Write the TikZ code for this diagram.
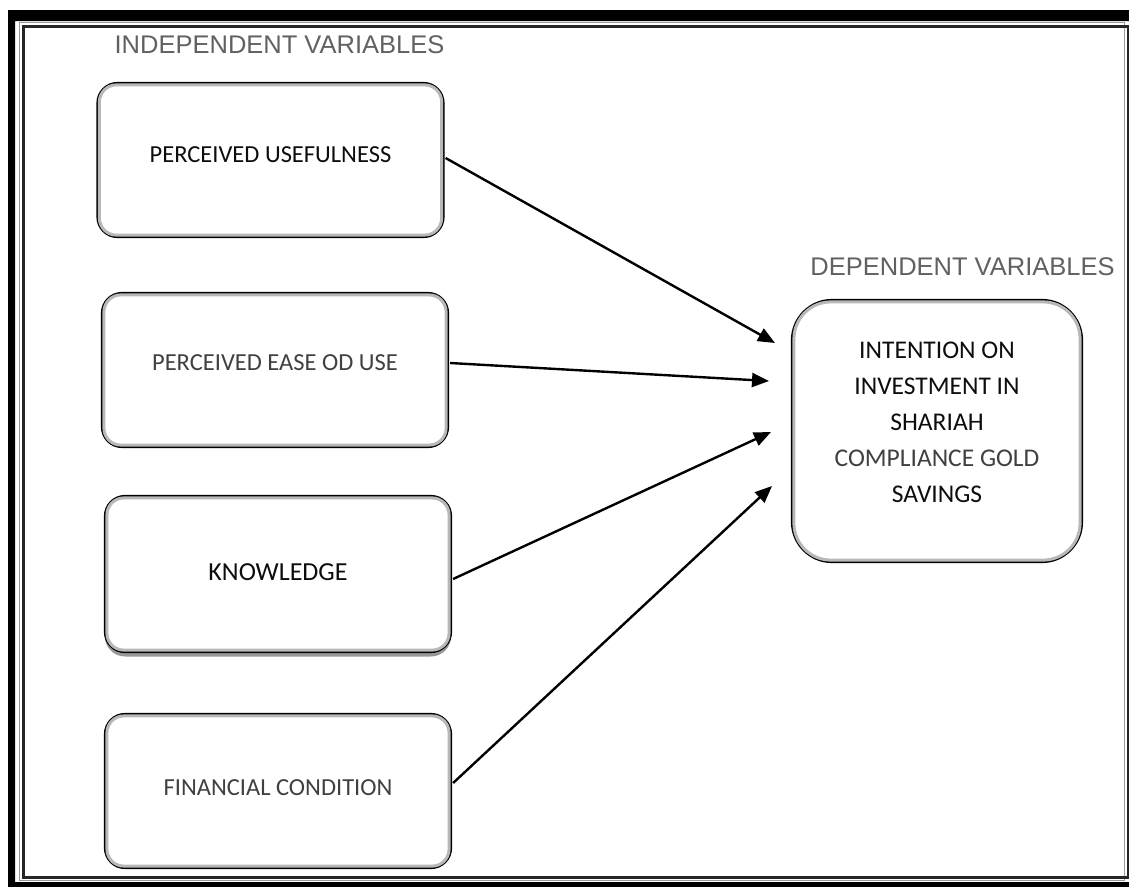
\documentclass[tikz,border=0pt]{standalone}
\usepackage{fontspec}
\setmainfont{Carlito}
\newfontfamily\headfont{Liberation Sans}
\usetikzlibrary{arrows.meta,shadows,calc}

\begin{document}
\begin{tikzpicture}[x=1pt,y=-1pt,
  heading/.style={font=\headfont\fontsize{25.5}{30}\selectfont, text=black!62, inner sep=0pt},
  varbox/.style={draw=black, line width=2.2pt, fill=white, rounded corners=20pt,
    minimum width=346pt, minimum height=154pt, inner sep=0pt,
    font=\fontsize{24.5}{29}\selectfont},
  darktext/.style={text=black!95},
  lighttext/.style={text=black!75},
  glowline/.style={draw=black!28, line width=3pt},
  link/.style={line width=2.4pt, draw=black, -{Triangle[length=17pt,width=14pt]}}
]
% page area
\useasboundingbox (0,0) rectangle (1129,886);
\fill[white] (0,0) rectangle (1129,886);

% page border: thick outer band, grey hairline and dark inner line
\fill[black, even odd rule] (8,10) rectangle (1140,896) (15,21) rectangle (1132,882);
\draw[black!40, line width=1.5pt] (19.5,22.5) rectangle (1124.5,880.5);
\draw[black!85, line width=3pt] (23,26.5) rectangle (1128,877.5);

% headings
\node[heading] (indep) at (279.5,45) {INDEPENDENT VARIABLES};
\node[heading] (dep) at (962.5,267) {DEPENDENT VARIABLES};

% independent variables
\node[varbox, darktext, text depth=10pt] (pu) at (270.5,160) {PERCEIVED USEFULNESS\hspace{13pt}};
\node[varbox, lighttext, text depth=14pt] (peou) at (275,370) {PERCEIVED EASE OD USE\hspace{6pt}};
\node[varbox, darktext, minimum height=156pt, text depth=4pt,
      font=\fontsize{26}{30}\selectfont,
      drop shadow={shadow xshift=0pt, shadow yshift=-4.5pt, fill=black!45, opacity=0.9}]
      (kn) at (278,574) {KNOWLEDGE};
\node[varbox, lighttext, text depth=6pt] (fc) at (278,791) {FINANCIAL CONDITION\hspace{12pt}};

% dependent variable
\node[varbox, darktext, rounded corners=40pt, minimum width=290pt, minimum height=262pt,
      font=\fontsize{25.5}{36}\selectfont] (dv) at (937,431)
  {\begin{tabular}{@{}c@{}}
   INTENTION ON\\
   INVESTMENT IN\\
   SHARIAH\\
   {\color{black!75}COMPLIANCE GOLD}\\
   SAVINGS\\[16pt]
   \end{tabular}};

% soft inner glow along each box edge
\foreach \n in {pu,peou,kn,fc}
  \draw[glowline, rounded corners=17pt]
    ([shift={(3pt,3pt)}]\n.south west) rectangle ([shift={(-3pt,-3pt)}]\n.north east);
\draw[glowline, rounded corners=37pt]
  ([shift={(3pt,3pt)}]dv.south west) rectangle ([shift={(-3pt,-3pt)}]dv.north east);

% arrow tips in front of the dependent variable
\coordinate (t1) at (775,343);
\coordinate (t2) at (769,381);
\coordinate (t3) at (771,432);
\coordinate (t4) at (772,486);

\draw[link] ($(pu.east)+(1,-2)$) -- (t1);
\draw[link] ($(peou.east)+(1,-7)$) -- (t2);
\draw[link] ($(kn.east)+(1,5)$) -- (t3);
\draw[link] ($(fc.east)+(1,-8)$) -- (t4);
\end{tikzpicture}
\end{document}
